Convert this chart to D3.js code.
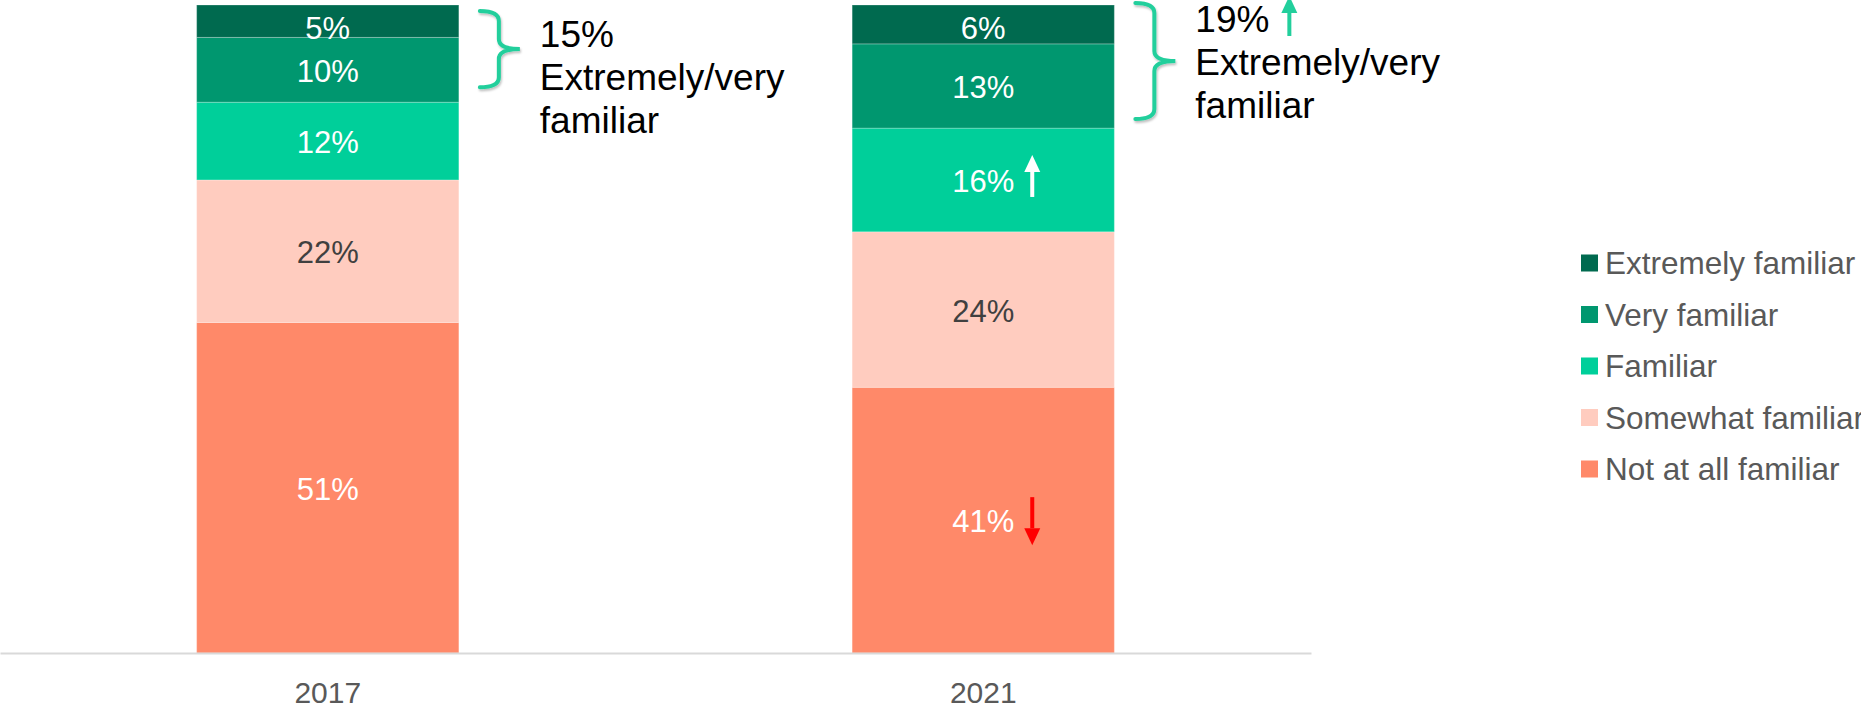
<!DOCTYPE html>
<html>
<head>
<meta charset="utf-8">
<script src="https://cdn.jsdelivr.net/npm/d3@7"></script>
<style>
  html, body { margin: 0; padding: 0; background: #ffffff; }
  svg { display: block; font-family: "Liberation Sans", Arial, sans-serif; }
</style>
</head>
<body>
<svg id="chart" width="1861" height="710"></svg>
<script>
// Survey years
const years = ["2017", "2021"];

// Share of respondents per familiarity level (%)
const extremelyFamiliar = [5, 6];
const veryFamiliar = [10, 13];
const familiar = [12, 16];
const somewhatFamiliar = [22, 24];
const notAtAllFamiliar = [51, 41];

// Combined extremely + very familiar
const topTwoBox = [15, 19];
const topTwoLabel = ["Extremely/very", "familiar"];

// Stack order, bottom to top
const seriesNames = ["Not at all familiar", "Somewhat familiar", "Familiar", "Very familiar", "Extremely familiar"];
const seriesValues = [notAtAllFamiliar, somewhatFamiliar, familiar, veryFamiliar, extremelyFamiliar];
const seriesColors = ["#FF8969", "#FFCCBF", "#00CF9A", "#00976F", "#006A4F"];
const labelColors = ["#ffffff", "#404040", "#ffffff", "#ffffff", "#ffffff"];

// Significant changes in 2021
const changes = [
  { year: "2021", series: "Familiar", dir: "up", color: "#ffffff" },
  { year: "2021", series: "Not at all familiar", dir: "down", color: "#FF0000" }
];

const table = years.map((yr, i) => {
  const row = { year: yr };
  seriesNames.forEach((s, k) => { row[s] = seriesValues[k][i]; });
  return row;
});

const svg = d3.select("#chart");
const fontFamily = '"Liberation Sans", Arial, sans-serif';

const x = d3.scaleBand().domain(years).range([0, 1311]).paddingInner(0.6).paddingOuter(0.3);
const y = d3.scaleLinear().domain([0, 100]).range([653, 5]);

const stacked = d3.stack().keys(seriesNames)(table);

// Bars
const layers = svg.append("g").selectAll("g")
  .data(stacked)
  .join("g")
  .attr("fill", (d, k) => seriesColors[k]);

layers.selectAll("rect")
  .data(d => d)
  .join("rect")
  .attr("x", d => x(d.data.year))
  .attr("width", x.bandwidth())
  .attr("y", d => y(d[1]))
  .attr("height", d => y(d[0]) - y(d[1]))
  .attr("stroke", "rgba(255,255,255,0.25)")
  .attr("stroke-width", 1);

// Value labels
stacked.forEach((layer, k) => {
  svg.append("g").selectAll("text")
    .data(layer)
    .join("text")
    .attr("x", d => x(d.data.year) + x.bandwidth() / 2)
    .attr("y", d => Math.max((y(d[0]) + y(d[1])) / 2, y(100) + 22) + 12)
    .attr("text-anchor", "middle")
    .attr("font-size", 31)
    .attr("fill", labelColors[k])
    .text(d => (d[1] - d[0]) + "%");
});

// Arrow helper: vertical arrow with triangular head
function arrow(g, cx, yTail, yTip, color) {
  const dir = yTip < yTail ? -1 : 1;
  const headLen = 17, headHalf = 8, shaft = 4;
  const yBase = yTip - dir * headLen;
  g.append("rect")
    .attr("x", cx - shaft / 2)
    .attr("y", Math.min(yTail, yBase))
    .attr("width", shaft)
    .attr("height", Math.abs(yBase - yTail))
    .attr("fill", color);
  g.append("path")
    .attr("d", `M${cx - headHalf},${yBase} L${cx + headHalf},${yBase} L${cx},${yTip} Z`)
    .attr("fill", color);
}

// Change markers inside segments
const arrows = svg.append("g");
changes.forEach(c => {
  const k = seriesNames.indexOf(c.series);
  const seg = stacked[k].find(d => d.data.year === c.year);
  const mid = (y(seg[0]) + y(seg[1])) / 2;
  const cx = x(c.year) + x.bandwidth() / 2 + 49;
  if (c.dir === "up") arrow(arrows, cx, mid + 17, mid - 25, c.color);
  else arrow(arrows, cx, mid - 23, mid + 25, c.color);
});

// Axis
const axis = svg.append("g")
  .attr("transform", `translate(0,${y(0)})`)
  .call(d3.axisBottom(x).tickSize(0).tickSizeOuter(0).tickPadding(29));
axis.select(".domain").attr("stroke", "#D9D9D9").attr("stroke-width", 2);
axis.selectAll("text")
  .attr("font-size", 30)
  .attr("font-family", fontFamily)
  .attr("fill", "#595959");

// Braces and combined top-two annotations
const defs = svg.append("defs");
defs.append("filter").attr("id", "braceShadow")
  .attr("x", "-50%").attr("y", "-20%").attr("width", "200%").attr("height", "140%")
  .append("feDropShadow")
  .attr("dx", 1).attr("dy", 2).attr("stdDeviation", 1.2)
  .attr("flood-color", "#000").attr("flood-opacity", 0.25);

function bracePath(L, S, T, top, bottom) {
  const m = (top + bottom) / 2, r = 10;
  return `M${L},${top} Q${S},${top} ${S},${top + r} L${S},${m - r} Q${S},${m} ${T},${m}` +
         ` Q${S},${m} ${S},${m + r} L${S},${bottom - r} Q${S},${bottom} ${L},${bottom}`;
}

const annot = svg.append("g");
const firstBaseline = [47, 32];
years.forEach((yr, i) => {
  const right = x(yr) + x.bandwidth();
  const top = i === 0 ? y(100) + 6 : y(100) - 2;
  const bottom = y(100 - topTwoBox[i]) - (i === 0 ? 15 : 9);
  annot.append("path")
    .attr("d", bracePath(right + 21, right + 40, right + 61, top, bottom))
    .attr("fill", "none")
    .attr("stroke", "#22CF9C")
    .attr("stroke-width", 4)
    .attr("stroke-linecap", "round")
    .attr("filter", "url(#braceShadow)");

  const tx = right + 81;
  const lines = [topTwoBox[i] + "%"].concat(topTwoLabel);
  const t = annot.append("text")
    .attr("x", tx)
    .attr("y", firstBaseline[i])
    .attr("font-size", 37)
    .attr("fill", "#000000");
  lines.forEach((ln, j) => {
    t.append("tspan").attr("x", tx).attr("dy", j === 0 ? 0 : 43).text(ln);
  });

  if (i === 1) {
    arrow(annot, tx + 94, firstBaseline[i] + 4, firstBaseline[i] - 36, "#22CF9C");
  }
});

// Legend, top to bottom
const legendItems = seriesNames.slice().reverse();
const legendColors = seriesColors.slice().reverse();
const legend = svg.append("g").attr("transform", "translate(1581,263)");
const rowGap = 51.5;
legendItems.forEach((name, i) => {
  const g = legend.append("g").attr("transform", `translate(0,${i * rowGap})`);
  g.append("rect").attr("x", 0).attr("y", -8.5).attr("width", 17).attr("height", 17)
    .attr("fill", legendColors[i]);
  g.append("text").attr("x", 24).attr("y", 11)
    .attr("font-size", 31.5).attr("fill", "#595959").text(name);
});
</script>
</body>
</html>
